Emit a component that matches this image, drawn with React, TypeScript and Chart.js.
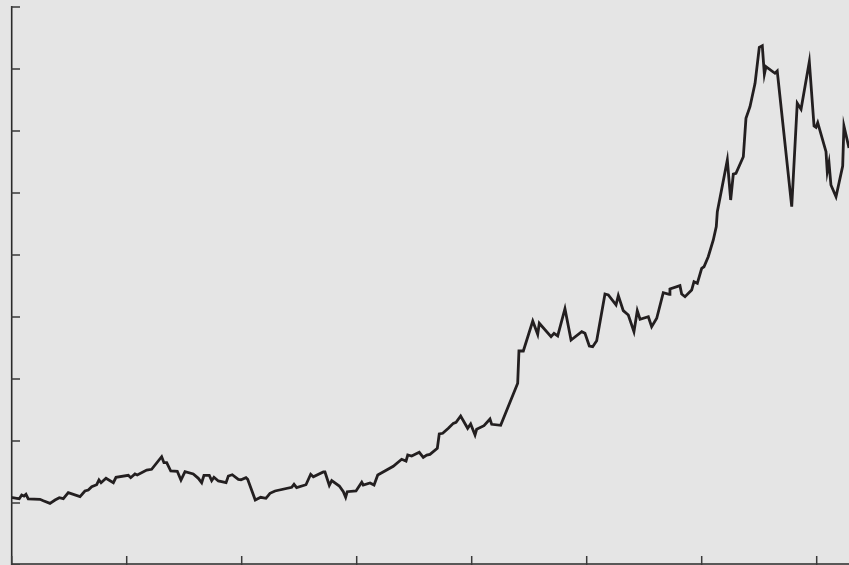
import React, { useEffect, useRef } from "react";
import { Chart, registerables } from "chart.js";

Chart.register(...registerables);

// x in tick units (one tick = 1), y in hundreds
const xValues: number[] = [
  0, 0.05, 0.072, 0.093, 0.113, 0.13, 0.15, 0.252, 0.281, 0.339, 0.383, 0.42, 0.455, 0.498, 0.6, 0.643, 0.672, 0.702, 0.745, 0.765,
  0.783, 0.826, 0.89, 0.913, 1.02, 1.041, 1.078, 1.098, 1.18, 1.223, 1.31, 1.33, 1.354, 1.389, 1.446, 1.478, 1.513, 1.585, 1.629, 1.658,
  1.678, 1.724, 1.745, 1.765, 1.803, 1.87, 1.89, 1.924, 1.977, 2.0, 2.043, 2.058, 2.124, 2.171, 2.217, 2.252, 2.296, 2.441, 2.461, 2.484,
  2.565, 2.606, 2.629, 2.716, 2.73, 2.768, 2.789, 2.855, 2.89, 2.91, 2.924, 3.0, 3.05, 3.063, 3.122, 3.157, 3.189, 3.324, 3.397, 3.435,
  3.45, 3.484, 3.55, 3.585, 3.615, 3.643, 3.707, 3.724, 3.754, 3.803, 3.846, 3.87, 3.91, 3.971, 3.997, 4.035, 4.049, 4.113, 4.165, 4.18,
  4.258, 4.406, 4.417, 4.455, 4.537, 4.58, 4.594, 4.696, 4.722, 4.754, 4.817, 4.87, 4.963, 4.991, 5.029, 5.058, 5.093, 5.165, 5.194, 5.261,
  5.281, 5.324, 5.368, 5.417, 5.446, 5.47, 5.542, 5.571, 5.615, 5.672, 5.724, 5.73, 5.817, 5.832, 5.861, 5.919, 5.939, 5.968, 6.006, 6.026,
  6.063, 6.107, 6.133, 6.142, 6.229, 6.258, 6.281, 6.304, 6.368, 6.391, 6.426, 6.47, 6.507, 6.533, 6.551, 6.565, 6.643, 6.663, 6.789, 6.837,
  6.87, 6.942, 6.983, 7.0, 7.015, 7.087, 7.098, 7.113, 7.13, 7.174, 7.232, 7.243, 7.287, 7.313,
];

const yValues: number[] = [
  109.2, 107.6, 106.9, 112.9, 111.3, 114.0, 106.5, 106.0, 103.7, 99.5, 104.8, 108.5, 106.9, 116.6, 110.2, 119.4, 121.0, 126.3, 129.5, 137.1,
  132.7, 139.8, 132.7, 141.5, 144.7, 140.8, 146.8, 145.2, 153.2, 154.4, 174.7, 165.0, 165.0, 151.6, 151.1, 137.1, 150.5, 146.8, 139.8, 132.7,
  144.7, 144.7, 136.0, 141.5, 135.5, 132.7, 143.5, 145.6, 138.2, 137.6, 140.8, 138.2, 104.8, 109.2, 107.6, 115.6, 119.4, 125.3, 130.2, 124.7,
  129.5, 146.3, 142.4, 150.0, 150.0, 128.5, 136.0, 127.4, 118.2, 109.2, 118.2, 119.4, 133.4, 129.0, 132.3, 129.0, 145.2, 159.2, 170.5, 167.7,
  177.4, 175.8, 181.8, 173.7, 177.4, 178.5, 188.2, 211.3, 212.4, 220.5, 228.5, 230.2, 240.3, 220.5, 227.4, 209.7, 218.9, 224.7, 235.5, 226.9,
  225.3, 293.1, 345.2, 345.2, 393.5, 372.1, 389.8, 368.2, 373.7, 369.4, 413.4, 362.9, 376.3, 373.7, 353.2, 352.1, 361.8, 437.1, 435.5, 419.4,
  434.4, 410.2, 403.2, 376.3, 410.2, 396.3, 400.5, 384.4, 397.9, 439.2, 436.6, 445.2, 450.5, 437.1, 432.7, 443.5, 456.9, 454.4, 478.5, 481.1,
  497.3, 524.2, 545.7, 569.8, 653.2, 588.7, 630.6, 631.8, 658.5, 720.4, 739.2, 776.9, 835.0, 837.6, 791.5, 803.7, 793.1, 796.8, 577.9, 744.7,
  735.0, 811.8, 708.1, 706.0, 713.4, 666.6, 634.4, 648.9, 612.9, 594.0, 643.5, 708.1, 672.6, 640.0,
];

const xTicks: number[] = [0, 1, 2, 3, 4, 5, 6, 7];
const yTicks: number[] = [0, 100, 200, 300, 400, 500, 600, 700, 800, 900];

const axesPlugin = {
  id: "inwardAxes",
  afterDraw(chart: any) {
    const { ctx, chartArea, scales } = chart;
    const xs = scales.x;
    const ys = scales.y;
    ctx.save();
    ctx.strokeStyle = "#2a2a2a";
    ctx.lineWidth = 1.6;
    ctx.beginPath();
    ctx.moveTo(chartArea.left + 0.7, ys.getPixelForValue(900) - 1);
    ctx.lineTo(chartArea.left + 0.7, chartArea.bottom);
    ctx.moveTo(chartArea.left, chartArea.bottom - 1);
    ctx.lineTo(chartArea.right, chartArea.bottom - 1);
    ctx.stroke();
    ctx.strokeStyle = "#3a3a3a";
    ctx.lineWidth = 1.5;
    ctx.beginPath();
    for (const v of yTicks) {
      const py = ys.getPixelForValue(v);
      ctx.moveTo(chartArea.left, py);
      ctx.lineTo(chartArea.left + 9, py);
    }
    for (const v of xTicks) {
      const px = xs.getPixelForValue(v) + 0.7;
      ctx.moveTo(px, chartArea.bottom);
      ctx.lineTo(px, chartArea.bottom - 9);
    }
    ctx.stroke();
    ctx.restore();
  },
};

export default function App() {
  const ref = useRef<HTMLCanvasElement | null>(null);
  useEffect(() => {
    if (!ref.current) return;
    const data = xValues.map((x, i) => ({ x, y: yValues[i] }));
    const chart = new Chart(ref.current, {
      type: "line",
      data: {
        datasets: [
          {
            data,
            borderColor: "#231f20",
            borderWidth: 2.8,
            pointRadius: 0,
            tension: 0,
            fill: false,
          },
        ],
      },
      options: {
        animation: false,
        responsive: false,
        devicePixelRatio: 1,
        layout: { padding: { left: 11, top: 7, right: 0, bottom: 0 } },
        plugins: { legend: { display: false }, tooltip: { enabled: false } },
        scales: {
          x: { type: "linear", min: 0, max: 7.287, display: false },
          y: { type: "linear", min: 0, max: 900, display: false },
        },
      },
      plugins: [axesPlugin],
    });
    return () => chart.destroy();
  }, []);
  return (
    <div
      style={{
        position: "fixed",
        left: 0,
        top: 0,
        width: 849,
        height: 565,
        background: "#e5e5e5",
        overflow: "hidden",
      }}
    >
      <canvas ref={ref} width={849} height={565} style={{ display: "block" }} />
    </div>
  );
}
